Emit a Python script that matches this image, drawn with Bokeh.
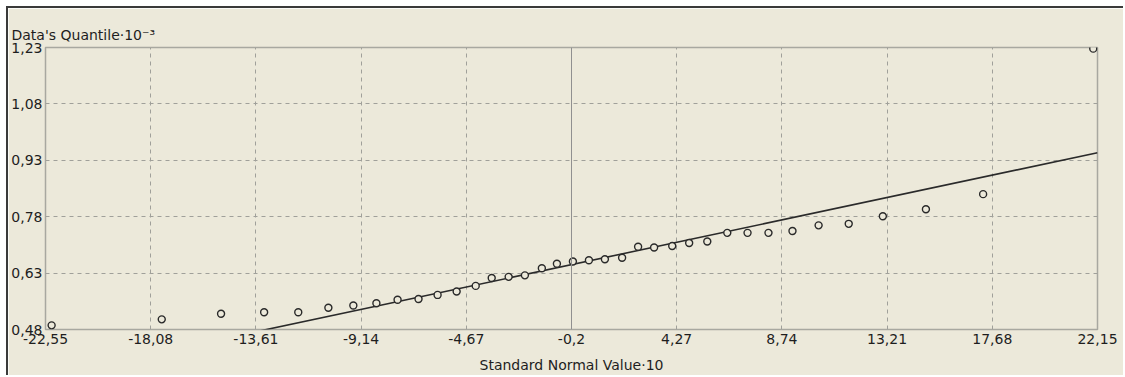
from bokeh.plotting import figure
from bokeh.models import Range1d, FixedTicker, Span
from bokeh.embed import file_html
from bokeh.resources import INLINE

# Data
x_ticks = [-22.55, -18.08, -13.61, -9.14, -4.67, -0.2, 4.27, 8.74, 13.21, 17.68, 22.15]
x_tick_labels = ["-22,55", "-18,08", "-13,61", "-9,14", "-4,67", "-0,2", "4,27", "8,74", "13,21", "17,68", "22,15"]
y_ticks = [0.48, 0.63, 0.78, 0.93, 1.08, 1.23]
y_tick_labels = ["0,48", "0,63", "0,78", "0,93", "1,08", "1,23"]

normal_values = [-22.29, -17.61, -15.09, -13.26, -11.81, -10.53, -9.47, -8.49, -7.59, -6.70,
                 -5.89, -5.08, -4.27, -3.59, -2.87, -2.18, -1.46, -0.82, -0.14, 0.54,
                 1.22, 1.95, 2.63, 3.31, 4.08, 4.80, 5.57, 6.42, 7.28, 8.17,
                 9.19, 10.30, 11.58, 13.03, 14.86, 17.29, 21.97]
data_quantiles = [0.491, 0.507, 0.522, 0.526, 0.526, 0.538, 0.544, 0.550, 0.559, 0.561,
                  0.572, 0.581, 0.596, 0.617, 0.620, 0.624, 0.643, 0.655, 0.661, 0.664,
                  0.667, 0.671, 0.700, 0.698, 0.702, 0.710, 0.714, 0.737, 0.737, 0.737,
                  0.742, 0.757, 0.761, 0.781, 0.800, 0.840, 1.227]

fit_x = [-22.55, 22.15]
fit_y = [0.355, 0.950]
center_x = -0.2

BG = "#ECE9DA"
TXT = "#1e1e1e"
FONT = "DejaVu Sans"

p = figure(width=1117, height=369, output_backend="svg", toolbar_location=None,
           x_range=Range1d(-22.55, 22.15), y_range=Range1d(0.48, 1.23),
           min_border_left=37, min_border_right=28, min_border_top=39, min_border_bottom=48,
           styles={"margin-top": "6px", "margin-left": "6px",
                   "border-top": "2px solid #3a3a3a", "border-left": "2px solid #3a3a3a"})

p.background_fill_color = BG
p.border_fill_color = BG
p.outline_line_color = "#a8a8a0"
p.outline_line_width = 1.5

p.title.text = "Data's Quantile·10⁻³"
p.title.text_font = FONT
p.title.text_font_size = "14px"
p.title.text_font_style = "normal"
p.title.text_color = TXT
p.title.align = "left"
p.title.offset = -34
p.title.standoff = 10

p.xaxis.ticker = FixedTicker(ticks=x_ticks)
p.xaxis.major_label_overrides = dict(zip(x_ticks, x_tick_labels))
p.yaxis.ticker = FixedTicker(ticks=y_ticks)
p.yaxis.major_label_overrides = dict(zip(y_ticks, y_tick_labels))

for ax in (p.xaxis, p.yaxis):
    ax.axis_line_color = None
    ax.major_tick_line_color = None
    ax.minor_tick_line_color = None
    ax.major_tick_in = 0
    ax.major_tick_out = 0
    ax.minor_tick_in = 0
    ax.minor_tick_out = 0
    ax.major_label_text_font = FONT
    ax.major_label_text_font_size = "14px"
    ax.major_label_text_color = TXT

p.yaxis.major_label_standoff = 3
p.xaxis.major_label_standoff = 4
p.xaxis.axis_label = "Standard Normal Value·10"
p.xaxis.axis_label_text_font = FONT
p.xaxis.axis_label_text_font_size = "14px"
p.xaxis.axis_label_text_font_style = "normal"
p.xaxis.axis_label_text_color = TXT
p.xaxis.axis_label_standoff = 10

for g in (p.xgrid, p.ygrid):
    g.grid_line_color = "#a0a09a"
    g.grid_line_dash = "4 4"
    g.grid_line_width = 1

p.add_layout(Span(location=center_x, dimension="height", line_color="#909090", line_width=1))

p.line(fit_x, fit_y, line_color="#2a2a2a", line_width=1.6)
p.scatter(normal_values, data_quantiles, size=7, marker="circle",
          line_color="#2a2a2a", line_width=1.4, fill_color=BG)

open("out.html", "w").write(file_html(p, INLINE))
